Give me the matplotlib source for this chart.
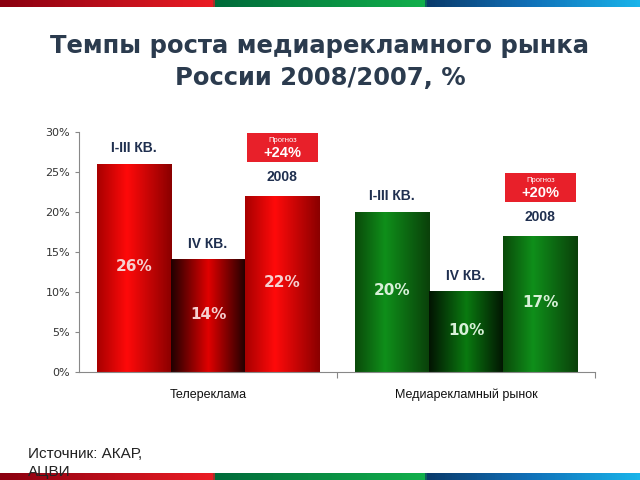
import numpy as np
import matplotlib
matplotlib.use("Agg")
import matplotlib.pyplot as plt
from matplotlib.colors import LinearSegmentedColormap
from matplotlib.patches import Rectangle

categories = ["Телереклама", "Медиарекламный рынок"]
series_labels = ["I-III КВ.", "IV КВ.", "2008"]
tv_values = [26, 14, 22]
market_values = [20, 10, 17]
forecasts = ["+24%", "+20%"]
yticks = [0, 5, 10, 15, 20, 25, 30]

fig = plt.figure(figsize=(6.4, 4.8), dpi=100)

# top and bottom strips
stripcm = LinearSegmentedColormap.from_list("strip", [
    (0.0, "#8a0010"), (0.333, "#ec1c24"), (0.334, "#006a3a"), (0.666, "#12b04c"),
    (0.667, "#0a3a6a"), (0.83, "#1070b8"), (1.0, "#19b4ea")])
for y0 in (1 - 7 / 480, 0):
    strip = fig.add_axes([0, y0, 1, 7 / 480])
    strip.imshow(np.linspace(0, 1, 640)[None, :], cmap=stripcm, aspect="auto", extent=(0, 1, 0, 1))
    strip.axis("off")

fig.text(0.5, 0.905, "Темпы роста медиарекламного рынка", ha="center", va="center",
         fontsize=17.5, fontweight="bold", color="#2b3b4e", family="DejaVu Sans")
fig.text(0.5, 0.838, "России 2008/2007, %", ha="center", va="center",
         fontsize=17.5, fontweight="bold", color="#2b3b4e", family="DejaVu Sans")

ax = fig.add_axes([79 / 640, 1 - 372 / 480, (595 - 79) / 640, 240 / 480])
ax.set_xlim(0, 2)
ax.set_ylim(0, 30)
for s in ["top", "right"]:
    ax.spines[s].set_visible(False)
ax.spines["left"].set_color("#888888")
ax.spines["bottom"].set_color("#888888")
ax.set_yticks(yticks)
ax.set_yticklabels([f"{v}%" for v in yticks], fontsize=8, color="#333333")
ax.tick_params(axis="y", length=3, color="#888888")
ax.set_xticks([1, 2])
ax.set_xticklabels([])
ax.tick_params(axis="x", length=4, color="#888888", direction="out")
ax.set_xticks([0.5, 1.5], minor=True)
ax.set_xticklabels(categories, minor=True, fontsize=9, color="#111111", family="Liberation Sans")
ax.tick_params(axis="x", which="minor", length=0, pad=12)

w = 0.288
offsets = [-w, 0, w]

def grad_cmap(edge_l, center, edge_r, pos=0.4):
    return LinearSegmentedColormap.from_list("g", [(0, edge_l), (pos, center), (1, edge_r)])

red_outer = grad_cmap("#a80000", "#ff0a0a", "#8a0000")
red_mid = grad_cmap("#200000", "#e00000", "#200000", 0.5)
green_outer = grad_cmap("#0a4a0a", "#0f8f1a", "#0a400a")
green_mid = grad_cmap("#021402", "#0a7a10", "#021402", 0.5)

lab_font = "Liberation Sans"
groups = [(tv_values, red_outer, red_mid, "#f5d0d0"), (market_values, green_outer, green_mid, "#d8f0d8")]
grad = np.linspace(0, 1, 200)[None, :]
for gi, (vals, cm_out, cm_mid, tcol) in enumerate(groups):
    center = gi + 0.5
    for bi, v in enumerate(vals):
        x = center + offsets[bi]
        cm = cm_mid if bi == 1 else cm_out
        ax.imshow(grad, cmap=cm, aspect="auto", extent=(x - w / 2, x + w / 2, 0, v), zorder=2)
        ax.text(x, v / 2 + 0.2, f"{v}%", ha="center", va="center", fontsize=11,
                fontweight="bold", color=tcol, zorder=3)
        if bi < 2:
            ax.text(x, v + 2.0, series_labels[bi], ha="center", va="center", fontsize=10,
                    fontweight="bold", color="#1f2f4f", zorder=3, family=lab_font)
        else:
            ax.text(x, v + 2.4, series_labels[bi], ha="center", va="center", fontsize=10,
                    fontweight="bold", color="#1f2f4f", zorder=3, family=lab_font)
            bw = w * 0.95
            by = v + 4.2
            ax.add_patch(Rectangle((x - bw / 2, by), bw, 3.7, facecolor="#e8202a",
                                   edgecolor="none", clip_on=False, zorder=3))
            ax.text(x, by + 2.75, "Прогноз", ha="center", va="center", fontsize=5.5,
                    color="white", zorder=4, clip_on=False, family=lab_font)
            ax.text(x, by + 1.2, forecasts[gi], ha="center", va="center", fontsize=10.5,
                    fontweight="bold", color="white", zorder=4, clip_on=False, family=lab_font)
ax.set_xlim(0, 2)
ax.set_ylim(0, 30)

fig.text(28 / 640, 1 - 454 / 480, "Источник: АКАР,", ha="left", va="center",
         fontsize=11, color="#222222", family=lab_font)
fig.text(28 / 640, 1 - 472 / 480, "АЦВИ", ha="left", va="center",
         fontsize=11, color="#222222", family=lab_font)

fig.savefig("out.png", dpi=100)
